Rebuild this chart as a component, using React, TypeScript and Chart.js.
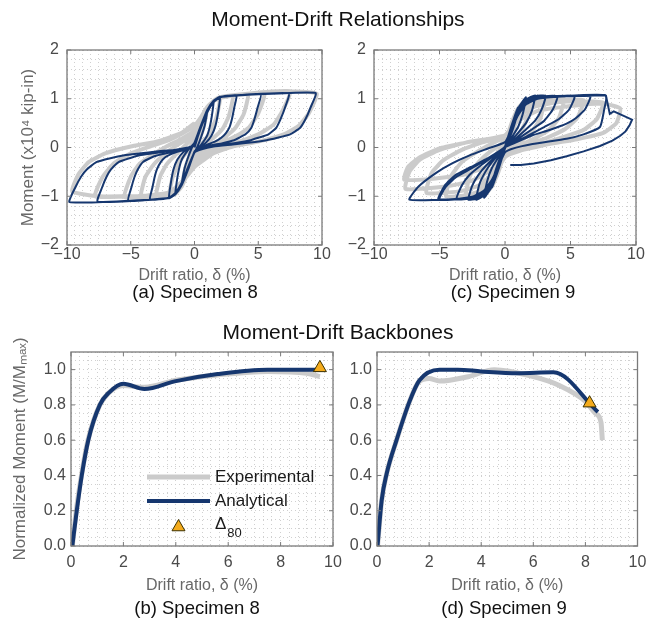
import React, { useEffect, useRef } from "react";
import { Chart, registerables } from "chart.js";
Chart.register(...registerables);

const FONT = "'Liberation Sans', Arial, Helvetica, sans-serif";
const NAVY = "#16376f";
const LIGHT = "#cbcbcb";
const ORANGE = "#f4ab1c";
const TICK_COLOR = "#4a4a4a";
const TITLE_COLOR = "#686868";

// ---------- tick labels ----------
const hystXTicks = [-10, -5, 0, 5, 10];
const hystYTicks = [-2, -1, 0, 1, 2];
const backboneXTicks = [0, 2, 4, 6, 8, 10];
const backboneYTicks = [0, 0.2, 0.4, 0.6, 0.8, 1.0];

// ---------- Specimen 8 hysteresis (x = drift %, y = moment x10^4 kip-in) ----------
const spec8Analytical: number[][] = [
  [0, 0], [0.5, 0.42], [1.0, 0.75],
  [0.8, 0.45], [0.5, 0.2], [0.2, 0.0], [0, -0.1], [-0.5, -0.42], [-1.0, -0.75],
  [-0.8, -0.45], [-0.5, -0.2], [-0.2, 0.0], [0, 0.1],
  [0.5, 0.45], [1.0, 0.76], [1.5, 0.95],
  [1.3, 0.55], [1.0, 0.25], [0.5, 0.05], [0, -0.1], [-0.5, -0.45], [-1.0, -0.76], [-1.5, -0.95],
  [-1.3, -0.55], [-1.0, -0.25], [-0.5, -0.05], [0, 0.1],
  [0.5, 0.45], [1.0, 0.77], [1.5, 0.96], [2.0, 1.04],
  [1.85, 0.72], [1.65, 0.45], [1.35, 0.25], [0.9, 0.1], [0.4, 0.01], [0, -0.08],
  [-0.5, -0.45], [-1.0, -0.77], [-1.5, -0.96], [-2.0, -1.04],
  [-1.85, -0.72], [-1.65, -0.45], [-1.35, -0.25], [-0.9, -0.1], [-0.4, -0.01], [0, 0.08],
  [0.5, 0.42], [1.0, 0.74], [1.5, 0.94], [2.0, 1.03], [2.6, 1.06], [3.3, 1.07],
  [3.12, 0.82], [2.95, 0.6], [2.75, 0.42], [2.45, 0.29], [2.1, 0.2], [1.6, 0.12], [1.0, 0.06], [0.2, -0.04], [0, -0.1],
  [-0.5, -0.42], [-1.0, -0.74], [-1.5, -0.94], [-2.0, -1.03], [-2.7, -1.06], [-3.5, -1.07],
  [-3.3, -0.82], [-3.12, -0.6], [-2.95, -0.45], [-2.65, -0.3], [-2.3, -0.2], [-1.7, -0.12], [-1.0, -0.06], [-0.3, 0.0], [0, 0.05],
  [0.5, 0.4], [1.0, 0.72], [1.5, 0.93], [2.0, 1.03], [3.5, 1.07], [5.2, 1.09],
  [4.95, 0.82], [4.7, 0.58], [4.45, 0.4], [4.0, 0.27], [3.5, 0.2], [3.1, 0.15], [2.2, 0.09], [1.6, 0.06], [0.8, 0.02], [0.3, -0.04], [0, -0.1],
  [-0.5, -0.4], [-1.0, -0.72], [-1.5, -0.93], [-2.0, -1.03], [-3.5, -1.07], [-5.2, -1.09],
  [-4.95, -0.82], [-4.7, -0.6], [-4.45, -0.45], [-4.05, -0.3], [-3.5, -0.22], [-2.9, -0.16], [-2.25, -0.12], [-1.6, -0.08], [-0.8, -0.05], [-0.3, 0.0], [0, 0.05],
  [0.5, 0.4], [1.0, 0.72], [1.5, 0.93], [2.0, 1.03], [4.0, 1.08], [7.4, 1.11],
  [7.1, 0.82], [6.75, 0.58], [6.4, 0.4], [5.8, 0.27], [5.0, 0.2], [4.4, 0.15], [3.1, 0.09], [2.3, 0.06], [1.2, 0.02], [0.4, -0.04], [0, -0.1],
  [-0.5, -0.4], [-1.0, -0.72], [-1.5, -0.93], [-2.0, -1.03], [-4.0, -1.08], [-7.6, -1.11],
  [-7.25, -0.82], [-6.9, -0.6], [-6.55, -0.45], [-5.95, -0.3], [-5.1, -0.22], [-4.3, -0.16], [-3.3, -0.12], [-2.3, -0.08], [-1.2, -0.05], [-0.4, 0.0], [0, 0.05],
  [0.5, 0.4], [1.0, 0.72], [1.5, 0.93], [2.0, 1.03], [5.0, 1.09], [9.5, 1.12],
  [9.1, 0.82], [8.7, 0.58], [8.27, 0.4], [7.5, 0.27], [6.5, 0.2], [5.66, 0.15], [4.0, 0.09], [3.0, 0.06], [1.5, 0.02], [0.5, -0.04], [0, -0.1],
  [-0.5, -0.4], [-1.0, -0.72], [-1.5, -0.93], [-2.0, -1.03], [-5.0, -1.09], [-9.8, -1.12],
  [-9.35, -0.82], [-8.9, -0.6], [-8.45, -0.45], [-7.7, -0.3], [-6.6, -0.22], [-5.5, -0.16], [-4.25, -0.12], [-3.0, -0.08], [-1.6, -0.05], [-0.5, 0.0], [0, 0.05],
];

const spec8Experimental: number[][] = [
  [0, 0], [0.5, 0.45], [1, 0.8], [0.7, 0.4], [0.3, 0.1], [0, -0.1], [-0.5, -0.45], [-1, -0.8],
  [-0.7, -0.4], [-0.3, -0.1], [0, 0.1],
  [0.5, 0.5], [1, 0.8], [1.5, 0.95], [2, 1.0], [1.7, 0.6], [1.2, 0.3], [0.5, 0.05], [0, -0.15],
  [-0.5, -0.5], [-1, -0.8], [-1.5, -0.95], [-2, -1.0], [-1.7, -0.6], [-1.2, -0.3], [-0.5, -0.05], [0, 0.15],
  [0.5, 0.5], [1, 0.8], [1.5, 0.95], [2, 1.02], [3, 1.05], [2.7, 0.65], [2.2, 0.38], [1.5, 0.2], [0.7, 0.05], [0, -0.2],
  [-0.5, -0.5], [-1, -0.78], [-1.5, -0.93], [-2, -0.99], [-3, -1.0], [-2.7, -0.6], [-2.2, -0.35], [-1.5, -0.15], [-0.7, 0.05], [0, 0.25],
  [0.5, 0.55], [1, 0.82], [1.5, 0.96], [2, 1.03], [3, 1.07], [4.2, 1.09], [3.85, 0.68], [3.2, 0.4], [2.4, 0.22], [1.5, 0.08], [0.7, -0.05], [0, -0.25],
  [-0.5, -0.5], [-1, -0.75], [-1.5, -0.9], [-2, -0.97], [-3, -1.0], [-4.2, -1.01], [-3.85, -0.6], [-3.2, -0.35], [-2.4, -0.15], [-1.5, 0.03], [-0.7, 0.15], [0, 0.3],
  [0.5, 0.55], [1, 0.8], [1.5, 0.95], [2, 1.03], [3.5, 1.08], [5.5, 1.12], [5.0, 0.7], [4.3, 0.42], [3.3, 0.24], [2.2, 0.1], [1.0, -0.08], [0, -0.3],
  [-0.5, -0.52], [-1, -0.75], [-1.5, -0.9], [-2, -0.97], [-3.5, -1.01], [-5.5, -1.02], [-5.0, -0.6], [-4.3, -0.33], [-3.3, -0.15], [-2.2, 0.02], [-1, 0.18], [0, 0.35],
  [0.5, 0.6], [1, 0.82], [1.5, 0.95], [2, 1.03], [4, 1.1], [7.5, 1.15], [6.9, 0.75], [6.2, 0.47], [5.0, 0.27], [3.5, 0.12], [2, 0.0], [1, -0.15], [0, -0.4],
  [-1, -0.72], [-2, -0.93], [-3, -0.99], [-5, -1.0], [-7.8, -1.0], [-7.2, -0.6], [-6.3, -0.32], [-5, -0.12], [-3.5, 0.02], [-2, 0.15], [-1, 0.28], [0, 0.45],
  [0.5, 0.62], [1, 0.83], [1.5, 0.95], [2, 1.03], [5, 1.12], [8, 1.15], [9.6, 1.1], [9.0, 0.72], [8.2, 0.45], [7.0, 0.27], [5.0, 0.12], [3.0, 0.02], [1.5, -0.12], [0, -0.4],
  [-1, -0.7], [-2, -0.92], [-4, -0.99], [-7.5, -1.0], [-9.6, -0.9], [-9.1, -0.55], [-8.3, -0.3], [-7, -0.12], [-5, 0.02], [-3, 0.12], [-1, 0.3], [0, 0.5],
];

// ---------- Specimen 9 hysteresis ----------
const spec9Analytical: number[][] = [
  [0, 0], [0.5, 0.45], [1.0, 0.82],
  [0.8, 0.55], [0.5, 0.3], [0.2, 0.1], [0, -0.02], [-0.5, -0.45], [-1.0, -0.82],
  [-0.8, -0.55], [-0.5, -0.3], [-0.2, -0.1], [0, 0.02],
  [0.5, 0.45], [1.0, 0.8], [1.6, 1.03],
  [1.35, 0.68], [1.0, 0.42], [0.5, 0.2], [0, 0.0], [-0.5, -0.45], [-1.0, -0.8], [-1.6, -1.03],
  [-1.35, -0.68], [-1.0, -0.42], [-0.5, -0.2], [0, 0.0],
  [0.5, 0.44], [1.0, 0.78], [1.6, 0.98], [2.3, 1.07],
  [2.05, 0.75], [1.6, 0.5], [1.0, 0.3], [0.4, 0.12], [0, 0.0], [-0.5, -0.44], [-1.0, -0.78], [-1.6, -0.98], [-2.2, -1.07],
  [-1.95, -0.75], [-1.5, -0.5], [-1.0, -0.3], [-0.4, -0.12], [0, 0.0],
  [0.5, 0.43], [1.0, 0.76], [1.6, 0.96], [2.3, 1.05], [3.1, 1.06],
  [2.8, 0.78], [2.3, 0.55], [1.6, 0.37], [0.8, 0.18], [0, 0.0], [-0.5, -0.43], [-1.0, -0.76], [-1.6, -0.96], [-2.2, -1.05], [-2.8, -1.07],
  [-2.5, -0.78], [-2.0, -0.55], [-1.4, -0.36], [-0.7, -0.18], [0, 0.0],
  [0.5, 0.42], [1.0, 0.74], [1.6, 0.95], [2.5, 1.04], [4.0, 1.05],
  [3.65, 0.78], [3.0, 0.55], [2.1, 0.38], [1.0, 0.18], [0, 0.0], [-0.5, -0.42], [-1.0, -0.74], [-1.6, -0.95], [-2.5, -1.04], [-3.7, -1.06],
  [-3.3, -0.78], [-2.7, -0.56], [-1.9, -0.38], [-0.9, -0.18], [0, 0.0],
  [0.5, 0.4], [1.0, 0.72], [1.6, 0.93], [2.5, 1.03], [5.3, 1.05],
  [4.9, 0.78], [4.1, 0.58], [3.0, 0.42], [1.6, 0.22], [0, 0.02], [-0.5, -0.4], [-1.0, -0.72], [-1.6, -0.93], [-2.5, -1.03], [-5.1, -1.07],
  [-4.6, -0.78], [-3.8, -0.57], [-2.6, -0.4], [-1.2, -0.2], [0, 0.02],
  [0.5, 0.4], [1.0, 0.7], [1.6, 0.92], [2.5, 1.03], [6.5, 1.05],
  [6.1, 0.78], [5.4, 0.6], [4.7, 0.49], [3.4, 0.36], [2.1, 0.25], [0.9, 0.11], [0, 0.0],
  [-0.5, -0.38], [-1.0, -0.68], [-1.6, -0.9], [-2.5, -1.02], [-5.0, -1.06],
  [-4.5, -0.8], [-3.7, -0.6], [-2.5, -0.42], [-1.2, -0.22], [0, 0.02],
  [0.5, 0.38], [1.0, 0.68], [1.6, 0.9], [2.5, 1.02], [4.0, 1.05], [7.7, 1.07],
  [7.55, 0.75], [7.25, 0.42], [6.0, 0.27], [4.7, 0.18], [2.1, 0.07], [0.5, -0.03], [0, -0.1],
  [-0.5, -0.38], [-1.0, -0.66], [-1.6, -0.88], [-2.5, -1.01], [-4.0, -1.06], [-7.3, -1.07],
  [-6.6, -0.8], [-5.2, -0.51], [-4.0, -0.32], [-2.7, -0.16], [-1.3, -0.02], [0, 0.11],
  [0.5, 0.38], [1.0, 0.66], [1.6, 0.88], [2.5, 1.0], [4.0, 1.04], [6.0, 1.06], [7.7, 1.07],
];
// last excursion with strength loss (drawn as straight segments)
const spec9AnalyticalFinal: number[][] = [
  [7.7, 1.07], [8.0, 0.69], [8.3, 0.74], [9.7, 0.57],
  [9.5, 0.45], [9.2, 0.33], [8.8, 0.24], [8.2, 0.14], [7.25, 0.03], [6.0, -0.08], [4.7, -0.18],
  [3.5, -0.26], [2.2, -0.33], [1.2, -0.36], [0.4, -0.36],
];

const spec9Experimental: number[][] = [
  [0, 0], [0.5, 0.45], [1, 0.78], [0.7, 0.4], [0.3, 0.12], [0, -0.05], [-0.5, -0.45], [-1, -0.78],
  [-0.7, -0.4], [-0.3, -0.12], [0, 0.05],
  [0.5, 0.5], [1, 0.8], [1.5, 0.95], [2, 1.0], [1.7, 0.6], [1.2, 0.32], [0.5, 0.08], [0, -0.1],
  [-0.5, -0.5], [-1, -0.8], [-1.5, -0.95], [-2, -1.0], [-1.7, -0.6], [-1.2, -0.32], [-0.5, -0.08], [0, 0.1],
  [0.5, 0.5], [1, 0.8], [2, 0.98], [3, 1.0], [2.7, 0.6], [2.1, 0.35], [1.3, 0.15], [0.5, 0.0], [0, -0.15],
  [-0.5, -0.45], [-1, -0.75], [-2, -0.97], [-3, -1.02], [-2.7, -0.6], [-2.1, -0.33], [-1.3, -0.12], [-0.5, 0.03], [0, 0.15],
  [0.5, 0.45], [1, 0.72], [2, 0.93], [3, 0.98], [4.5, 1.0], [4.1, 0.6], [3.3, 0.35], [2.2, 0.18], [1, 0.02], [0, -0.2],
  [-0.5, -0.42], [-1, -0.65], [-2, -0.9], [-3, -0.98], [-4.5, -1.0], [-4.1, -0.58], [-3.3, -0.3], [-2.2, -0.1], [-1, 0.08], [0, 0.22],
  [0.5, 0.42], [1, 0.65], [2, 0.88], [3.5, 0.96], [6, 0.97], [5.5, 0.6], [4.6, 0.38], [3.2, 0.2], [1.6, 0.04], [0, -0.2],
  [-1, -0.55], [-2, -0.78], [-3.5, -0.9], [-6, -0.93], [-5.6, -0.52], [-4.7, -0.26], [-3.3, -0.05], [-1.8, 0.1], [0, 0.25],
  [1, 0.6], [2, 0.82], [4, 0.93], [6, 0.95], [7.5, 0.92], [7.0, 0.58], [6.0, 0.36], [4.5, 0.22], [2.5, 0.05], [0, -0.18],
  [-1, -0.45], [-2.5, -0.68], [-4.5, -0.8], [-7.6, -0.85], [-7.3, -0.5], [-6.5, -0.25], [-5, -0.05], [-3, 0.1], [0, 0.25],
  [1, 0.55], [2.5, 0.75], [5, 0.85], [7.5, 0.9], [8.8, 0.8], [8.5, 0.5], [7.5, 0.3], [5.5, 0.17], [3, 0.05], [0, -0.15],
  [-1.5, -0.4], [-3, -0.55], [-5.5, -0.64], [-7.7, -0.66], [-7.4, -0.4], [-6.5, -0.2], [-5, -0.02], [-3, 0.1],
];

// ---------- Backbones (x = drift %, y = M/Mmax) ----------
const spec8BackboneAnalytical: number[][] = [
  [0.05, 0], [0.22, 0.2], [0.41, 0.4], [0.66, 0.6], [1.1, 0.8], [1.45, 0.87], [2.0, 0.92],
  [2.8, 0.89], [4.0, 0.935], [5.6, 0.975], [7.5, 1.0], [9.5, 1.0],
];
const spec8BackboneExperimental: number[][] = [
  [0.05, 0], [0.2, 0.2], [0.4, 0.4], [0.65, 0.6], [1.1, 0.8], [1.45, 0.87], [2.0, 0.91],
  [2.8, 0.9], [4.0, 0.94], [5.6, 0.97], [7.5, 0.99], [9.0, 0.98], [9.5, 0.96],
];
const spec8Delta80: number[][] = [[9.5, 1.01]];

const spec9BackboneAnalytical: number[][] = [
  [0.02, 0], [0.18, 0.26], [0.37, 0.41], [0.75, 0.6], [1.25, 0.82], [1.63, 0.94], [2.4, 1.0],
  [3.1, 1.0], [4.0, 0.99], [5.4, 0.98], [6.77, 0.985], [8.48, 0.76],
];
const spec9BackboneExperimental: number[][] = [
  [0.02, 0], [0.18, 0.26], [0.37, 0.41], [0.75, 0.6], [1.25, 0.82], [1.6, 0.93], [2.0, 0.95],
  [2.4, 0.935], [3.5, 0.96], [4.5, 1.0], [6.0, 0.96], [7.0, 0.91], [8.0, 0.82], [8.4, 0.75],
  [8.6, 0.7], [8.65, 0.6],
];
const spec9Delta80: number[][] = [[8.16, 0.81]];

// ---------- helpers ----------
const toXY = (pts: number[][]) => pts.map(([x, y]) => ({ x, y }));
const fmt = (v: number, dec: number) => (v < 0 ? "\u2212" : "") + Math.abs(v).toFixed(dec);
const majorLabel = (majors: number[], dec: number) => (value: any) => {
  const m = majors.find((t) => Math.abs(t - Number(value)) < 1e-6);
  return m === undefined ? "" : fmt(m, dec);
};

function drawTri(ctx: CanvasRenderingContext2D, x: number, y: number, r: number) {
  ctx.beginPath();
  ctx.moveTo(x, y - r);
  ctx.lineTo(x + r * 0.866, y + r * 0.5);
  ctx.lineTo(x - r * 0.866, y + r * 0.5);
  ctx.closePath();
  ctx.fillStyle = ORANGE;
  ctx.fill();
  ctx.lineWidth = 1;
  ctx.strokeStyle = "#3b3000";
  ctx.stroke();
}

const boxPlugin = {
  id: "boxFrame",
  afterDatasetsDraw(chart: any) {
    const { ctx, chartArea: a, scales } = chart;
    const xs = scales.x;
    const ys = scales.y;
    const xm: number[] = chart.options.plugins.boxFrame.xMajors;
    const ym: number[] = chart.options.plugins.boxFrame.yMajors;
    ctx.save();
    ctx.strokeStyle = "#7a7a7a";
    ctx.lineWidth = 1;
    ctx.beginPath();
    xm.forEach((v) => {
      const p = xs.getPixelForValue(v);
      ctx.moveTo(p, a.bottom);
      ctx.lineTo(p, a.bottom - 4);
      ctx.moveTo(p, a.top);
      ctx.lineTo(p, a.top + 4);
    });
    ym.forEach((v) => {
      const p = ys.getPixelForValue(v);
      ctx.moveTo(a.left, p);
      ctx.lineTo(a.left + 4, p);
      ctx.moveTo(a.right, p);
      ctx.lineTo(a.right - 4, p);
    });
    ctx.stroke();
    ctx.lineWidth = 1.3;
    ctx.strokeRect(a.left, a.top, a.right - a.left, a.bottom - a.top);
    ctx.restore();
  },
};

const legendPlugin = {
  id: "innerLegend",
  afterDraw(chart: any) {
    if (!chart.options.plugins.innerLegend.show) return;
    const { ctx, chartArea: a } = chart;
    const x0 = a.left + 76;
    const x1 = a.left + 139;
    const tx = a.left + 144;
    const y1 = a.top + 125;
    const y2 = a.top + 149;
    const y3 = a.top + 174;
    ctx.save();
    ctx.lineCap = "butt";
    ctx.strokeStyle = LIGHT;
    ctx.lineWidth = 5;
    ctx.beginPath();
    ctx.moveTo(x0, y1);
    ctx.lineTo(x1, y1);
    ctx.stroke();
    ctx.strokeStyle = NAVY;
    ctx.lineWidth = 4;
    ctx.beginPath();
    ctx.moveTo(x0, y2);
    ctx.lineTo(x1, y2);
    ctx.stroke();
    drawTri(ctx, (x0 + x1) / 2, y3 + 1, 7.5);
    ctx.fillStyle = "#1a1a1a";
    ctx.textBaseline = "middle";
    ctx.textAlign = "left";
    ctx.font = `17px ${FONT}`;
    ctx.fillText("Experimental", tx, y1);
    ctx.fillText("Analytical", tx, y2);
    ctx.fillText("\u0394", tx, y3 - 2);
    const w = ctx.measureText("\u0394").width;
    ctx.font = `13px ${FONT}`;
    ctx.fillText("80", tx + w + 1, y3 + 7);
    ctx.restore();
  },
};

interface PanelSpec {
  padding: { left: number; right: number; top: number; bottom: number };
  yWidth: number;
  xHeight: number;
  x: { min: number; max: number; step: number; majors: number[]; dec: number; pad: number };
  y: { min: number; max: number; step: number; majors: number[]; dec: number; pad: number };
  xTitlePad: number;
  yTitle?: string;
  yTitlePad?: number;
  yTitleSize?: number;
  datasets: any[];
  legend?: boolean;
}

function buildConfig(s: PanelSpec): any {
  const fit = (size: number) => (scale: any) => {
    if (scale.isHorizontal()) scale.height = size;
    else scale.width = size;
    scale.paddingLeft = 0;
    scale.paddingRight = 0;
    scale.paddingTop = 0;
    scale.paddingBottom = 0;
  };
  const grid = { color: "#d0d0d0", lineWidth: 1, drawTicks: false };
  const border = { display: false, dash: [1, 3] };
  return {
    type: "scatter",
    data: { datasets: s.datasets },
    plugins: [boxPlugin, legendPlugin],
    options: {
      responsive: false,
      animation: false,
      events: [],
      layout: { padding: s.padding },
      plugins: {
        legend: { display: false },
        tooltip: { enabled: false },
        boxFrame: { xMajors: s.x.majors, yMajors: s.y.majors },
        innerLegend: { show: !!s.legend },
      },
      scales: {
        x: {
          type: "linear",
          min: s.x.min,
          max: s.x.max,
          grid,
          border,
          ticks: {
            stepSize: s.x.step,
            autoSkip: false,
            maxRotation: 0,
            padding: s.x.pad,
            color: TICK_COLOR,
            font: { family: FONT, size: 16 },
            callback: majorLabel(s.x.majors, s.x.dec),
          },
          title: {
            display: true,
            text: "Drift ratio, \u03b4 (%)",
            color: TITLE_COLOR,
            font: { family: FONT, size: 16 },
            padding: { top: 0, bottom: s.xTitlePad },
          },
          afterFit: fit(s.xHeight),
        },
        y: {
          type: "linear",
          min: s.y.min,
          max: s.y.max,
          grid,
          border,
          ticks: {
            stepSize: s.y.step,
            autoSkip: false,
            padding: s.y.pad,
            color: TICK_COLOR,
            font: { family: FONT, size: 16 },
            callback: majorLabel(s.y.majors, s.y.dec),
          },
          title: {
            display: !!s.yTitle,
            text: s.yTitle || "",
            color: TITLE_COLOR,
            font: { family: FONT, size: s.yTitleSize || 16 },
            padding: { top: s.yTitlePad || 0, bottom: 0 },
          },
          afterFit: fit(s.yWidth),
        },
      },
    },
  };
}

const hystSets = (ana: number[][], exp: number[][], final?: number[][]) => {
  const sets: any[] = [
    { data: toXY(ana), showLine: true, borderColor: NAVY, borderWidth: 2, pointRadius: 0, tension: 0.15, order: 0 },
    { data: toXY(exp), showLine: true, borderColor: LIGHT, borderWidth: 4, pointRadius: 0, tension: 0.15, order: 2 },
  ];
  if (final) {
    sets.push({ data: toXY(final), showLine: true, borderColor: NAVY, borderWidth: 2, pointRadius: 0, tension: 0, order: 1 });
  }
  return sets;
};
const backboneSets = (ana: number[][], exp: number[][], d80: number[][]) => [
  {
    data: toXY(d80), showLine: false, pointStyle: "triangle", pointRadius: 7.5,
    backgroundColor: ORANGE, borderColor: "#3b3000", borderWidth: 1, order: 0,
  },
  { data: toXY(ana), showLine: true, borderColor: NAVY, borderWidth: 4, pointRadius: 0, cubicInterpolationMode: "monotone", order: 1 },
  { data: toXY(exp), showLine: true, borderColor: LIGHT, borderWidth: 5, pointRadius: 0, cubicInterpolationMode: "monotone", order: 2 },
];

const hystX = { min: -10, max: 10, step: 0.625, majors: hystXTicks, dec: 0, pad: 0 };
const hystY = { min: -2, max: 2, step: 0.2, majors: hystYTicks, dec: 0, pad: 8 };
const bbX = { min: 0, max: 10, step: 1 / 3, majors: backboneXTicks, dec: 0, pad: 7 };
const bbY = { min: 0, max: 1.1, step: 0.05, majors: backboneYTicks, dec: 1, pad: 5 };

const panels: PanelSpec[] = [
  {
    padding: { left: 0, right: 324, top: 50, bottom: 336 },
    yWidth: 67, xHeight: 40, x: hystX, y: hystY, xTitlePad: 0,
    yTitle: "Moment (x10\u2074 kip-in)", yTitlePad: 18, yTitleSize: 17,
    datasets: hystSets(spec8Analytical, spec8Experimental),
  },
  {
    padding: { left: 335, right: 10, top: 50, bottom: 336 },
    yWidth: 39, xHeight: 40, x: hystX, y: hystY, xTitlePad: 0,
    datasets: hystSets(spec9Analytical, spec9Experimental, spec9AnalyticalFinal),
  },
  {
    padding: { left: 0, right: 313, top: 352, bottom: 25 },
    yWidth: 71, xHeight: 50, x: bbX, y: bbY, xTitlePad: 1,
    yTitle: "Normalized Moment (M/M\u2098\u2090\u2093)", yTitlePad: 10, yTitleSize: 17,
    datasets: backboneSets(spec8BackboneAnalytical, spec8BackboneExperimental, spec8Delta80),
    legend: true,
  },
  {
    padding: { left: 335, right: 6, top: 352, bottom: 25 },
    yWidth: 42, xHeight: 50, x: bbX, y: bbY, xTitlePad: 1,
    datasets: backboneSets(spec9BackboneAnalytical, spec9BackboneExperimental, spec9Delta80),
  },
];

function Panel({ spec }: { spec: PanelSpec }) {
  const ref = useRef<HTMLCanvasElement | null>(null);
  useEffect(() => {
    if (!ref.current) return;
    const chart = new Chart(ref.current, buildConfig(spec));
    return () => chart.destroy();
  }, [spec]);
  return (
    <canvas
      ref={ref}
      width={646}
      height={621}
      style={{ position: "absolute", left: 0, top: 0, width: 646, height: 621 }}
    />
  );
}

const textStyle = (cx: number, cy: number, size: number, color = "#111"): React.CSSProperties => ({
  position: "absolute",
  left: cx - 200,
  width: 400,
  top: cy - size * 0.6,
  height: size * 1.2,
  lineHeight: `${size * 1.2}px`,
  textAlign: "center",
  fontFamily: FONT,
  fontSize: size,
  color,
  whiteSpace: "nowrap",
});

export default function App() {
  return (
    <div style={{ position: "absolute", left: 0, top: 0, width: 646, height: 621, background: "#fff", overflow: "hidden" }}>
      {panels.map((p, i) => (
        <Panel key={i} spec={p} />
      ))}
      <div style={textStyle(338, 19, 21)}>Moment-Drift Relationships</div>
      <div style={textStyle(338, 332, 21)}>Moment-Drift Backbones</div>
      <div style={textStyle(195, 292, 18.5)}>(a) Specimen 8</div>
      <div style={textStyle(513, 292, 18.5)}>(c) Specimen 9</div>
      <div style={textStyle(197, 608, 18.5)}>(b) Specimen 8</div>
      <div style={textStyle(504, 608, 18.5)}>(d) Specimen 9</div>
    </div>
  );
}
